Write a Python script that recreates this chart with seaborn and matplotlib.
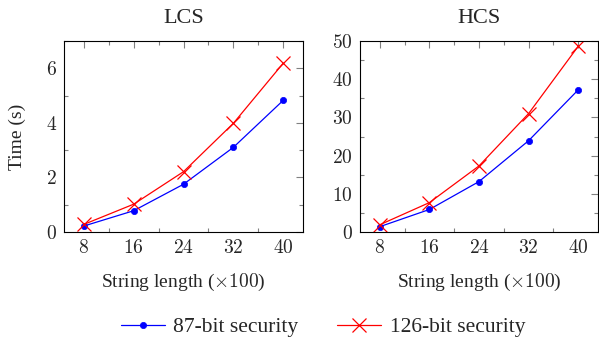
import matplotlib
matplotlib.use("Agg")
import matplotlib.pyplot as plt
import seaborn as sns
import pandas as pd
from matplotlib.ticker import MultipleLocator, FuncFormatter

sns.set_theme(style="white")
plt.rcParams['font.family'] = ['Liberation Serif', 'DejaVu Serif']
plt.rcParams['mathtext.fontset'] = 'cm'

lengths = [8, 16, 24, 32, 40]
lcs_87 = [0.22, 0.78, 1.75, 3.10, 4.82]
lcs_126 = [0.28, 1.02, 2.21, 3.98, 6.18]
hcs_87 = [1.4, 5.9, 13.2, 23.9, 37.2]
hcs_126 = [1.9, 7.7, 17.3, 31.0, 48.6]
series = ["87-bit security", "126-bit security"]

rows = []
for name, vals in [("LCS", lcs_87), ("HCS", hcs_87)]:
    for x, y in zip(lengths, vals):
        rows.append(dict(panel=name, length=x, time=y, series=series[0]))
for name, vals in [("LCS", lcs_126), ("HCS", hcs_126)]:
    for x, y in zip(lengths, vals):
        rows.append(dict(panel=name, length=x, time=y, series=series[1]))
df = pd.DataFrame(rows)

fig = plt.figure(figsize=(5.99, 3.43), dpi=100)
W, H = 599, 343
ax1 = fig.add_axes([64 / W, 1 - 232 / H, (303 - 64) / W, (232 - 41) / H])
ax2 = fig.add_axes([360 / W, 1 - 232 / H, (598 - 360) / W, (232 - 41) / H])

fmt = FuncFormatter(lambda v, p: r"$%d$" % round(v))

for ax, panel, ymax, ymaj, ymin in [(ax1, "LCS", 7, 2, 1), (ax2, "HCS", 50, 10, 5)]:
    d = df[df.panel == panel]
    sub87 = d[d.series == series[0]]
    sub126 = d[d.series == series[1]]
    sns.lineplot(data=sub87, x="length", y="time", color="#0000ff", marker="o",
                 markersize=4.5, markeredgecolor="#0000ff", markeredgewidth=0.5,
                 lw=0.9, ax=ax, label=series[0])
    sns.lineplot(data=sub126, x="length", y="time", color="#ff0000", marker="x",
                 markersize=10, markeredgecolor="#ff0000", markeredgewidth=0.9,
                 lw=0.9, ax=ax, label=series[1])
    ax.set_xlim(4.8, 43.2)
    ax.set_ylim(0, ymax)
    ax.set_xticks(lengths)
    ax.xaxis.set_minor_locator(MultipleLocator(4))
    ax.yaxis.set_major_locator(MultipleLocator(ymaj))
    ax.yaxis.set_minor_locator(MultipleLocator(ymin))
    ax.xaxis.set_major_formatter(fmt)
    ax.yaxis.set_major_formatter(fmt)
    ax.tick_params(which="both", direction="in", top=True, right=True, color="#808080",
                   width=0.8, labelsize=14, pad=5)
    ax.tick_params(which="major", length=5)
    ax.tick_params(which="minor", length=3, left=True, bottom=True)
    for s in ax.spines.values():
        s.set_color("black")
        s.set_linewidth(0.8)
    ax.set_title(panel, fontsize=16, pad=13)
    ax.set_xlabel(r"String length ($\times 100$)", fontsize=14, labelpad=11)
    ax.set_ylabel("")
    ax.get_legend().remove()

ax1.set_ylabel("Time (s)", fontsize=14, labelpad=14)

handles, labels = ax1.get_legend_handles_labels()
leg = fig.legend(handles, labels, loc="center", bbox_to_anchor=(323 / W, 1 - 327 / H), ncol=2,
           frameon=False, fontsize=15.5, handlelength=2.05, columnspacing=1.8,
           handletextpad=0.4)

fig.savefig("out.png", dpi=100)
